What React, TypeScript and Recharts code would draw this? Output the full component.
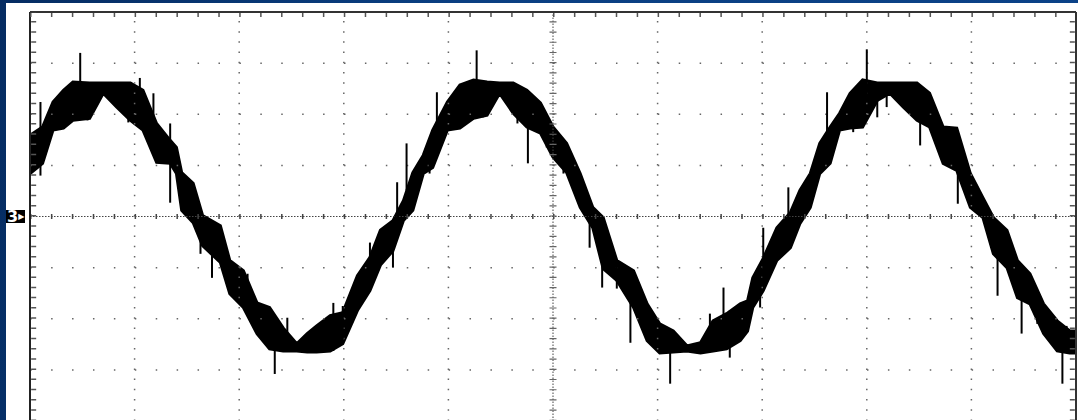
import React from 'react';
import { ComposedChart, Area, XAxis, YAxis, ReferenceLine } from 'recharts';

// time in screen divisions (10 across)
const time = [0, 0.12, 0.22, 0.32, 0.41, 0.57, 0.70, 0.83, 0.96, 1.08, 1.21, 1.34, 1.40, 1.45, 1.56, 1.65, 1.82, 1.91, 2.04, 2.17, 2.29, 2.42, 2.55, 2.65, 2.74, 2.87, 2.99, 3.13, 3.25, 3.35, 3.47, 3.57, 3.66, 3.76, 3.85, 3.99, 4.11, 4.24, 4.37, 4.49, 4.62, 4.75, 4.88, 5.00, 5.13, 5.26, 5.38, 5.48, 5.61, 5.77, 5.90, 6.02, 6.15, 6.28, 6.41, 6.53, 6.66, 6.79, 6.86, 6.91, 7.01, 7.14, 7.27, 7.36, 7.46, 7.55, 7.65, 7.74, 7.84, 7.96, 8.10, 8.22, 8.35, 8.48, 8.60, 8.73, 8.86, 8.99, 9.11, 9.21, 9.34, 9.44, 9.56, 9.69, 9.82, 9.94, 10.0];
// upper edge of the noisy trace (divisions)
const upper = [1.59, 1.75, 2.24, 2.47, 2.63, 2.61, 2.61, 2.61, 2.61, 2.47, 1.82, 1.49, 1.35, 0.86, 0.65, 0.02, -0.18, -0.86, -1.06, -1.69, -1.78, -2.18, -2.49, -2.29, -2.14, -1.94, -1.88, -1.16, -0.80, -0.27, -0.08, 0.31, 0.86, 1.20, 1.69, 2.24, 2.57, 2.67, 2.63, 2.61, 2.61, 2.47, 2.22, 1.75, 1.43, 0.84, 0.18, -0.02, -0.86, -1.06, -1.71, -2.10, -2.24, -2.53, -2.47, -2.04, -1.90, -1.71, -1.65, -1.20, -0.82, -0.22, 0.08, 0.51, 0.84, 1.43, 1.75, 2.02, 2.41, 2.67, 2.61, 2.61, 2.61, 2.61, 2.41, 1.75, 1.73, 0.84, 0.37, -0.02, -0.27, -0.86, -1.12, -1.71, -2.04, -2.24, -2.24];
// lower edge of the noisy trace (divisions)
const lower = [0.84, 1.04, 1.69, 1.73, 1.88, 1.92, 2.41, 2.14, 1.88, 1.69, 1.06, 1.04, 0.84, 0.12, -0.12, -0.57, -0.90, -1.51, -1.78, -2.29, -2.59, -2.63, -2.63, -2.65, -2.65, -2.63, -2.49, -1.84, -1.45, -0.95, -0.67, -0.08, 0.12, 0.84, 0.96, 1.69, 1.73, 1.92, 1.98, 2.41, 2.02, 1.75, 1.63, 1.16, 0.86, 0.18, -0.22, -1.02, -1.25, -1.78, -2.43, -2.67, -2.65, -2.63, -2.67, -2.63, -2.59, -2.43, -2.24, -1.78, -1.45, -0.86, -0.61, -0.14, 0.18, 0.84, 1.04, 1.69, 1.73, 1.75, 2.27, 2.41, 2.14, 1.88, 1.75, 1.04, 0.90, 0.18, -0.02, -0.73, -1.00, -1.59, -1.71, -2.29, -2.63, -2.67, -2.67];

// noise spikes
const spikeTime = [0.10, 0.48, 0.55, 0.94, 1.05, 1.18, 1.34, 1.63, 1.74, 2.08, 2.34, 2.46, 2.90, 2.99, 3.25, 3.47, 3.51, 3.60, 3.82, 3.89, 4.27, 4.33, 4.66, 4.76, 4.94, 5.10, 5.35, 5.47, 5.61, 5.74, 6.12, 6.50, 6.63, 6.69, 6.98, 7.01, 7.25, 7.62, 7.87, 8.00, 8.10, 8.19, 8.51, 8.87, 9.25, 9.48, 9.63, 9.87, 9.91];
const spikeHigh = [2.24, 3.20, 2.30, 2.40, 2.71, 2.41, 1.82, -0.08, -0.47, -1.12, -2.24, -1.98, -1.69, -1.75, -0.51, -0.20, 0.67, 1.43, 1.50, 2.43, 3.25, 2.60, 2.50, 2.08, 2.00, 1.40, 0.02, -0.27, -0.90, -1.55, -2.24, -1.90, -1.39, -1.84, -1.20, -0.22, 0.57, 2.43, 2.30, 3.27, 2.60, 2.60, 2.27, 1.29, -0.27, -1.25, -1.50, -2.24, -2.14];
const spikeLow = [0.80, 1.98, 1.88, 1.84, 1.98, 1.80, 0.27, -0.73, -1.20, -1.65, -3.08, -2.53, -2.63, -2.40, -1.06, -1.00, -0.27, 0.51, 0.84, 1.49, 2.27, 1.94, 1.82, 1.04, 1.35, 0.84, -0.61, -1.39, -1.41, -2.47, -3.27, -2.60, -2.33, -2.76, -1.78, -1.25, -0.47, 1.29, 1.65, 2.27, 1.94, 2.14, 1.39, 0.25, -1.55, -2.29, -2.10, -3.27, -2.60];

const majorX = [1, 2, 3, 4, 6, 7, 8, 9];
const majorY = [-3, -2, -1, 1, 2, 3, -4];
const xTicks = Array.from({ length: 51 }, (_, i) => Math.round(i * 20) / 100);
const yTicks = Array.from({ length: 41 }, (_, i) => Math.round((i * 0.2 - 4) * 100) / 100);

const data = time.map((t, i) => ({ t, band: [lower[i], upper[i]] }));

export default function App() {
  return (
    <div
      style={{
        position: 'fixed',
        left: 0,
        top: 0,
        width: 1078,
        height: 420,
        overflow: 'hidden',
        background: 'linear-gradient(100deg, #052c62 0%, #0a3f82 40%, #0b4288 100%)',
      }}
    >
      <div style={{ position: 'absolute', left: 6, top: 3, width: 1072, height: 420, background: '#fff' }} />
      <div style={{ position: 'absolute', left: 0, top: 0 }}>
        <ComposedChart
          width={1078}
          height={431}
          data={data}
          margin={{ top: 12, right: 2, bottom: 10, left: 30 }}
        >
          <XAxis dataKey="t" type="number" domain={[0, 10]} allowDataOverflow ticks={xTicks} hide />
          <YAxis type="number" domain={[-4, 4]} allowDataOverflow ticks={yTicks} hide />
          {majorY.map((y) => (
            <ReferenceLine key={'gy' + y} y={y} stroke="#666" strokeWidth={1.5} strokeDasharray="1.5 19.42" strokeDashoffset={-0.2} />
          ))}
          {majorX.map((x) => (
            <ReferenceLine key={'gx' + x} x={x} stroke="#666" strokeWidth={1.5} strokeDasharray="1.5 8.72" />
          ))}
          <ReferenceLine y={0} stroke="#444" strokeWidth={1} strokeDasharray="1.5 1.5" />
          <ReferenceLine y={0} stroke="#444" strokeWidth={5} strokeDasharray="1.5 19.42" />
          <ReferenceLine x={5} stroke="#444" strokeWidth={1} strokeDasharray="1.5 1.5" />
          <ReferenceLine x={5} stroke="#666" strokeWidth={7} strokeDasharray="1.2 9.02" />
          {/* frame and its tick marks */}
          <ReferenceLine x={0} stroke="#222" strokeWidth={2} />
          <ReferenceLine x={10} stroke="#333" strokeWidth={2} />
          <ReferenceLine y={4} stroke="#333" strokeWidth={2} />
          <ReferenceLine x={0.035} stroke="#555" strokeWidth={5} strokeDasharray="1.5 8.72" />
          <ReferenceLine x={9.965} stroke="#555" strokeWidth={5} strokeDasharray="1.5 8.72" />
          <ReferenceLine y={3.94} stroke="#555" strokeWidth={4} strokeDasharray="1.5 19.42" />
          <Area
            dataKey="band"
            type="linear"
            stroke="#000"
            strokeWidth={3}
            strokeLinejoin="miter"
            fill="#000"
            fillOpacity={1}
            isAnimationActive={false}
            dot={false}
            activeDot={false}
          />
          {spikeTime.map((t, i) => (
            <ReferenceLine
              key={'sp' + i}
              segment={[{ x: t, y: spikeLow[i] }, { x: t, y: spikeHigh[i] }]}
              stroke="#000"
              strokeWidth={2}
            />
          ))}
        </ComposedChart>
      </div>
      <div
        style={{
          position: 'absolute',
          left: 6,
          top: 210,
          height: 13,
          padding: '0 1px',
          background: '#000',
          color: '#fff',
          fontFamily: 'DejaVu Sans',
          fontWeight: 'bold',
          fontSize: 16,
          lineHeight: '13px',
          whiteSpace: 'nowrap',
        }}
      >
        3<span style={{ fontSize: 8, verticalAlign: 'top', lineHeight: '13px' }}>▶</span>
      </div>
    </div>
  );
}
